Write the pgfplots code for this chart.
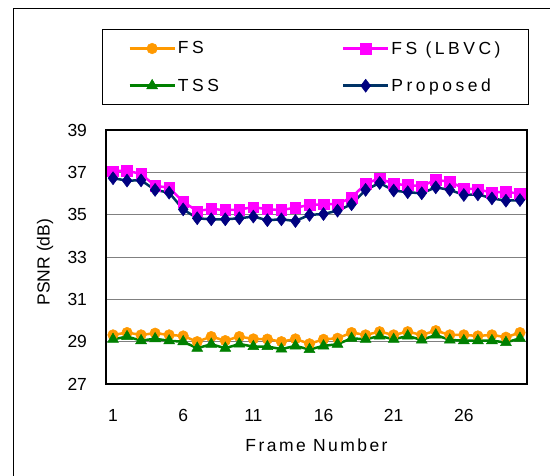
\documentclass[border=0pt]{standalone}
\usepackage{pgfplots}
\usepackage{pgfplotstable}
\pgfplotsset{compat=1.18}
\usepackage{fontspec}
\setmainfont{Liberation Sans}
\newfontfamily\legfont{Liberation Sans}[LetterSpace=20]
\newfontfamily\labfont{Liberation Sans}[LetterSpace=14]
\definecolor{cfs}{RGB}{255,153,0}
\definecolor{clbvc}{RGB}{255,0,255}
\definecolor{ctss}{RGB}{0,128,0}
\definecolor{cnavy}{RGB}{0,0,128}
\definecolor{cpropline}{RGB}{0,51,102}
\definecolor{cgrid}{RGB}{128,128,128}

\pgfplotstableread{
i fs lbvc tss prop
1 29.32 37.06 29.11 36.72
2 29.43 37.08 29.24 36.61
3 29.32 36.92 29.05 36.62
4 29.40 36.37 29.14 36.17
5 29.32 36.27 29.04 36.04
6 29.27 35.61 29.00 35.25
7 29.00 35.17 28.69 34.83
8 29.24 35.27 28.88 34.78
9 29.05 35.22 28.69 34.78
10 29.24 35.24 28.89 34.83
11 29.13 35.36 28.77 34.91
12 29.12 35.25 28.77 34.74
13 29.00 35.22 28.65 34.78
14 29.13 35.33 28.80 34.70
15 28.90 35.46 28.63 34.99
16 29.11 35.49 28.80 35.03
17 29.16 35.50 28.88 35.19
18 29.43 35.81 29.16 35.49
19 29.32 36.46 29.11 36.17
20 29.47 36.72 29.27 36.50
21 29.32 36.45 29.11 36.14
22 29.47 36.40 29.27 36.06
23 29.32 36.35 29.08 36.01
24 29.52 36.64 29.32 36.29
25 29.32 36.56 29.08 36.17
26 29.32 36.24 29.05 35.93
27 29.27 36.20 29.05 35.96
28 29.32 36.04 29.05 35.77
29 29.21 36.09 28.96 35.66
30 29.43 35.98 29.16 35.69
}\datatable

\begin{document}
\begin{tikzpicture}[x=1pt,y=1pt]
\useasboundingbox (0pt,0pt) rectangle (550pt,-475pt);
\draw[line width=1.3pt] (13.5pt,-490pt) -- (13.5pt,-8.5pt) -- (560pt,-8.5pt);
\begin{axis}[
  at={(106pt,-384pt)}, anchor=south west,
  scale only axis, width=421pt, height=254pt,
  xmin=0.5, xmax=30.5, ymin=27, ymax=39,
  xtick={1,6,11,16,21,26}, ytick={27,29,...,39},
  ymajorgrids, major grid style={draw=cgrid, line width=0.8pt},
  major tick length=0pt,
  axis line style={line width=1.3pt},
  tick label style={font=\fontsize{17.5}{21}\selectfont},
  /pgf/number format/assume math mode=true,
  xticklabel style={yshift=-22pt},
  yticklabel style={xshift=-15.5pt},
  xlabel={Frame Number},
  xlabel style={font=\labfont\fontsize{17.5}{21}\selectfont, at={(axis description cs:0.5,0)}, anchor=north, yshift=-51pt},
  ylabel={PSNR (dB)},
  ylabel style={font=\fontsize{17.5}{21}\selectfont, at={(axis description cs:-0.1449,0.48)}, anchor=center},
  legend columns=2,
  legend cell align=left,
  legend style={at={(axis description cs:-0.0095,1.3976)}, anchor=north west, draw=black, line width=0.8pt, fill=white, inner xsep=26pt, inner ysep=10pt, font=\legfont\fontsize{17.5}{21}\selectfont, row sep=19pt, /tikz/column 2/.style={column sep=121pt}},
  legend image code/.code={\draw[mark repeat=2,mark phase=2,#1] plot coordinates {(0pt,0pt) (22.5pt,0pt) (45pt,0pt)};},
]
\addplot[color=cfs, line width=2.5pt, mark=*, mark size=5.3pt, mark options={solid, line width=0.5pt}] table[x=i,y=fs] {\datatable};
\addlegendentry{FS}
\addplot[color=clbvc, line width=2.5pt, mark=square*, mark size=5.3pt, mark options={solid, line width=0.5pt}] table[x=i,y=lbvc] {\datatable};
\addlegendentry{FS (LBVC)}
\addplot[color=ctss, line width=2.5pt, mark=triangle*, mark size=6.3pt, mark options={solid, line width=0.5pt}] table[x=i,y=tss] {\datatable};
\addlegendentry{TSS}
\addplot[draw=cpropline, line width=2.5pt, mark=diamond*, mark size=6.5pt, mark options={solid, line width=0.5pt, draw=cnavy, fill=cnavy}] table[x=i,y=prop] {\datatable};
\addlegendentry{Proposed}
\end{axis}
\end{tikzpicture}
\end{document}
